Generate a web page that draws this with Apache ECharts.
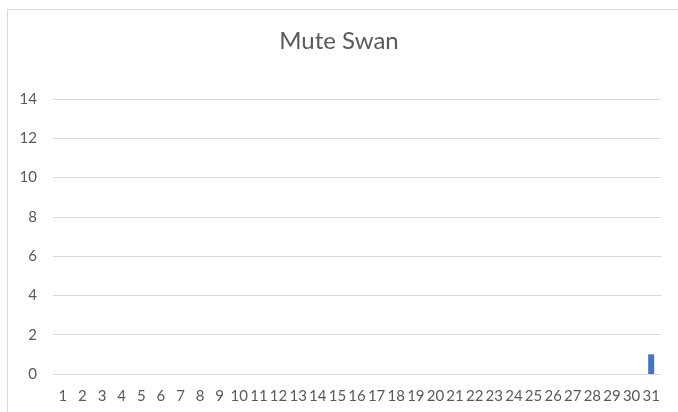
<!DOCTYPE html>
<html>
<head>
<meta charset="utf-8">
<script src="https://cdn.jsdelivr.net/npm/echarts@6/dist/echarts.min.js"></script>
<style>
  html, body { margin: 0; padding: 0; background: #fff; }
  #chart { width: 678px; height: 412px; }
</style>
</head>
<body>
<div id="chart"></div>
<script>
// days of the month
var days = ['1','2','3','4','5','6','7','8','9','10','11','12','13','14','15','16',
            '17','18','19','20','21','22','23','24','25','26','27','28','29','30','31'];
// counts per day
var counts = [0,0,0,0,0,0,0,0,0,0,0,0,0,0,0,0,0,0,0,0,0,0,0,0,0,0,0,0,0,0,1];

var FONT = 'Lato, "Open Sans", sans-serif';
var chart = echarts.init(document.getElementById('chart'));
chart.setOption({
  animation: false,
  textStyle: { fontFamily: FONT },
  // outer chart frame
  graphic: [{
    type: 'rect',
    shape: { x: 7.5, y: 9.5, width: 700, height: 420 },
    style: { fill: 'none', stroke: '#d9d9d9', lineWidth: 1 },
    silent: true
  }],
  title: {
    text: 'Mute Swan',
    left: 'center',
    top: 29,
    padding: [0, 0, 0, 17],
    textStyle: { fontSize: 24, fontWeight: 'normal', color: '#595959', fontFamily: FONT }
  },
  grid: { left: 53, right: 17, top: 99, bottom: 38 },
  xAxis: {
    type: 'category',
    data: days,
    axisLine: { show: false },
    axisTick: { show: false },
    axisLabel: { color: '#595959', fontSize: 15, margin: 15, interval: 0 }
  },
  yAxis: {
    type: 'value',
    min: 0,
    max: 14,
    interval: 2,
    axisLine: { show: false },
    axisTick: { show: false },
    axisLabel: { color: '#595959', fontSize: 15, margin: 16 },
    splitLine: { lineStyle: { color: '#d9d9d9' } }
  },
  series: [{
    type: 'bar',
    data: counts,
    barWidth: 6,
    itemStyle: { color: '#4472C4' }
  }]
});
</script>
</body>
</html>
